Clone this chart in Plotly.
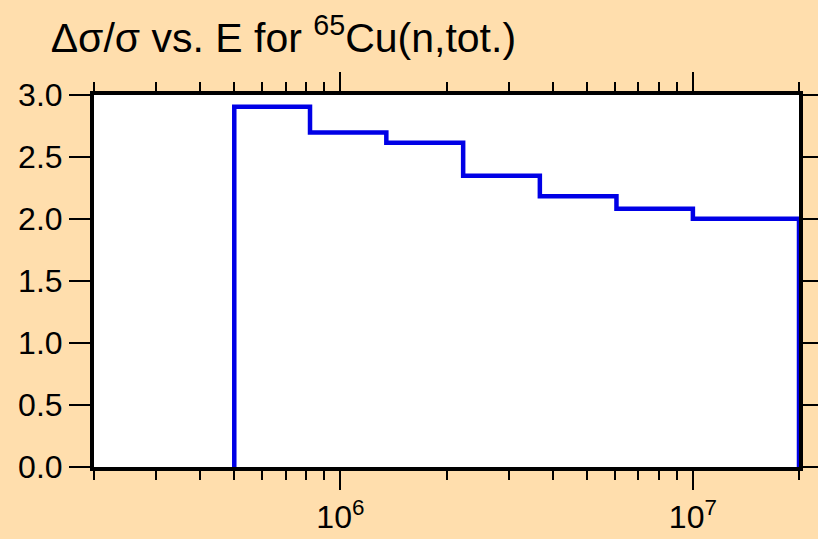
import plotly.graph_objects as go

# Group boundaries (eV) and relative uncertainty per group
edges = [5.0e5, 8.2e5, 1.35e6, 2.23e6, 3.68e6, 6.07e6, 1.0e7, 2.0e7]
values = [2.906, 2.697, 2.614, 2.349, 2.183, 2.082, 2.002]

major_ticks = [1e6, 1e7]
major_text = ["10<sup>6</sup>", "10<sup>7</sup>"]
minor_ticks = [2e5, 3e5, 4e5, 5e5, 6e5, 7e5, 8e5, 9e5,
               2e6, 3e6, 4e6, 5e6, 6e6, 7e6, 8e6, 9e6, 2e7]
y_ticks = [0.0, 0.5, 1.0, 1.5, 2.0, 2.5, 3.0]

# step outline: start at zero, go across each group, drop to zero
xs = [edges[0]] + edges[:-1] + [edges[-1], edges[-1]]
ys = [0.0] + values + [values[-1], 0.0]

fig = go.Figure()
fig.add_trace(go.Scatter(x=xs, y=ys, mode="lines", line=dict(color="#0000E6", width=4.5, shape="hv"),
                         showlegend=False, hoverinfo="skip"))

font = "Liberation Sans, Arial, sans-serif"
fig.update_layout(
    width=818, height=539,
    paper_bgcolor="#FFDEAD", plot_bgcolor="#FFFFFF",
    margin=dict(l=94, r=19, t=95, b=72, autoexpand=False),
    font=dict(family=font, size=32, color="#000000"),
    title=dict(text="Δσ/σ vs. E for <sup>65</sup>Cu(n,tot.)", xref="container", yref="container",
               x=0.062, xanchor="left", y=0.93, yanchor="middle",
               font=dict(family=font, size=41, color="#000000")),
)
fig.update_xaxes(type="log", range=[5.30103, 7.30103], tickmode="array", tickvals=major_ticks,
                 ticktext=major_text, ticks="outside", ticklen=19, tickwidth=2, tickcolor="black",
                 showline=True, linewidth=4, linecolor="black", mirror="ticks", showgrid=False,
                 zeroline=False, tickfont=dict(size=32), automargin=False,
                 minor=dict(tickmode="array", tickvals=minor_ticks, ticks="outside", ticklen=9,
                            tickwidth=2, tickcolor="black", showgrid=False))
fig.update_yaxes(range=[0, 3.0], tickmode="array", tickvals=y_ticks,
                 ticktext=[f"{v:.1f}" for v in y_ticks], ticks="outside", ticklen=21, tickwidth=2,
                 tickcolor="black", showline=True, linewidth=4, linecolor="black", mirror="ticks",
                 showgrid=False, zeroline=False, tickfont=dict(size=32), automargin=False)

fig.write_html("out.html", config={"displayModeBar": False},
               post_script="document.body.style.margin='0';document.body.style.padding='0';")
